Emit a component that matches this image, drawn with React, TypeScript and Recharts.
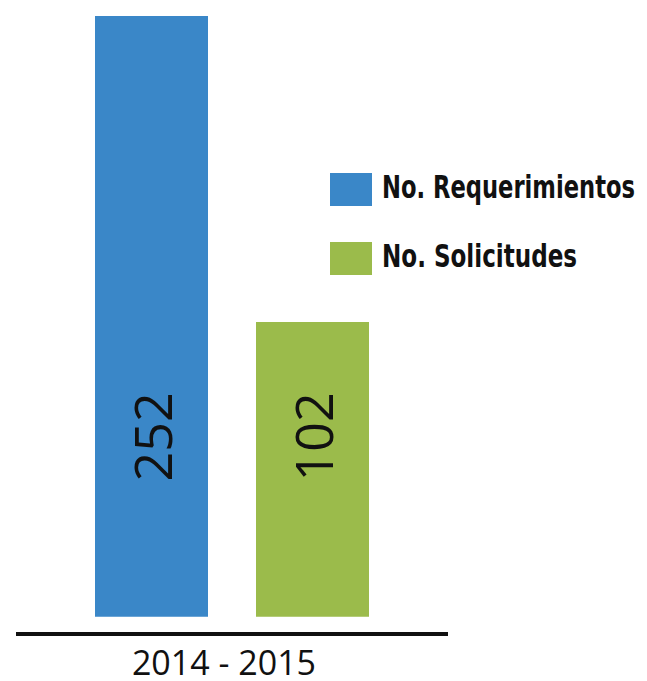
import { BarChart, Bar, XAxis, YAxis, Legend, LabelList } from 'recharts'

const categories = ['2014 - 2015']
const requerimientos = [252]
const solicitudes = [102]

// the reference does not draw its bars from zero: they stand on a floor
// below zero, and the axis line sits a little lower still
const BAR_FLOOR = -42.6
const AXIS_MIN = -51
const AXIS_MAX = 252

const BLUE = '#3a87c8'
const GREEN = '#9bbb4b'
const INK = '#111111'

const data = categories.map((c, i) => ({
  period: c,
  req: requerimientos[i],
  sol: solicitudes[i],
}))

// the legend text is a condensed face; stretch it to the widths it has in the picture
const legendTextWidth = [253, 195]

function BarValue(props: any) {
  const { x, y, width, height, value } = props
  const cx = x + width / 2
  const cy = y + height - 180
  return (
    <text
      x={cx}
      y={cy}
      transform={`rotate(-90, ${cx}, ${cy})`}
      textAnchor="middle"
      dominantBaseline="central"
      fontFamily="'Open Sans', sans-serif"
      fontSize={52}
      fill={INK}
    >
      {value}
    </text>
  )
}

function PeriodTick(props: any) {
  const { x, y, payload } = props
  return (
    <text x={x - 8} y={y + 41} textAnchor="middle" fontFamily="'Open Sans', sans-serif" fontSize={34} fill={INK}>
      {payload.value}
    </text>
  )
}

function LegendBox(props: any) {
  const items = props.payload || []
  return (
    <svg width={316} height={130} style={{ overflow: 'visible' }}>
      {items.map((it: any, i: number) => (
        <g key={it.value} transform={`translate(0, ${i * 69})`}>
          <rect x={0} y={13} width={42} height={33} fill={it.color} />
          <text
            x={52}
            y={38}
            fontFamily="'Liberation Sans Narrow', 'DejaVu Sans Condensed', 'Liberation Sans', sans-serif"
            fontWeight="bold"
            fontSize={32}
            fill={INK}
            textLength={legendTextWidth[i]}
            lengthAdjust="spacingAndGlyphs"
          >
            {it.value}
          </text>
        </g>
      ))}
    </svg>
  )
}

export default function App() {
  return (
    <div style={{ width: 647, height: 681, background: '#fff' }}>
      <style>{'body { margin: 0; }'}</style>
      <BarChart
        width={647}
        height={681}
        data={data}
        margin={{ top: 16, right: 199, bottom: 0, left: 16 }}
        barSize={113}
        barGap={48}
      >
        <XAxis
          dataKey="period"
          axisLine={{ stroke: INK, strokeWidth: 4 }}
          tickLine={false}
          tickSize={0}
          tickMargin={0}
          height={47}
          tick={<PeriodTick />}
        />
        <YAxis hide type="number" domain={[AXIS_MIN, AXIS_MAX]} allowDataOverflow />
        <Legend
          layout="horizontal"
          verticalAlign="middle"
          align="center"
          wrapperStyle={{ left: 330, top: 160, width: 316, height: 130 }}
          content={<LegendBox />}
        />
        <Bar dataKey={(d: any) => [BAR_FLOOR, d.req]} name="No. Requerimientos" fill={BLUE} isAnimationActive={false}>
          <LabelList dataKey="req" content={<BarValue />} />
        </Bar>
        <Bar dataKey={(d: any) => [BAR_FLOOR, d.sol]} name="No. Solicitudes" fill={GREEN} isAnimationActive={false}>
          <LabelList dataKey="sol" content={<BarValue />} />
        </Bar>
      </BarChart>
    </div>
  )
}
